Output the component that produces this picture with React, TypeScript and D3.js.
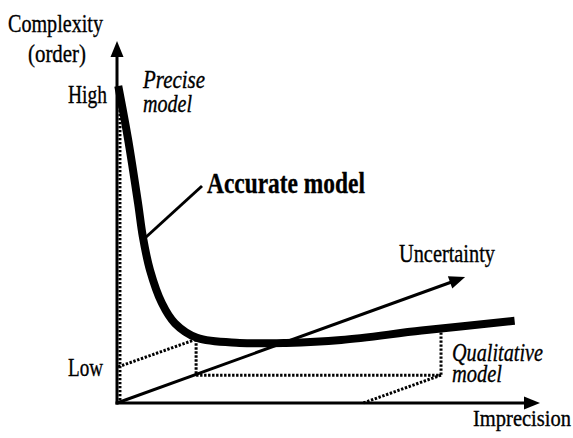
import React from 'react'
import * as d3 from 'd3'

// Accurate model curve (imprecision 0-100, complexity 0-100)
const curveX = [0.3, 2.6, 5.0, 6.1, 7.8, 10.6, 13.7, 18.9, 29, 40, 53, 72, 94]
const curveY = [87.6, 73, 55, 46, 36.7, 27.6, 22, 18, 16.6, 16.6, 17.4, 20, 22.7]

// Guide levels
const highLevel = 87.6
const lowLevel = 10
const boxX = [18.7, 76.6]
const boxY = 7.7
const boxTopY = [17.6, 20.6]
const footX = 58.2
const uncertaintyTip = [82.3, 34.8]

const W = 573
const H = 438

const x = d3.scaleLinear().domain([0, 100]).range([117, 540])
const y = d3.scaleLinear().domain([0, 100]).range([403, 41])

const font = '"Liberation Serif", "Times New Roman", serif'

// arrowhead polygon pointing from (x0,y0) to (x1,y1)
function head(x0: number, y0: number, x1: number, y1: number, len = 16, half = 6.5) {
  const a = Math.atan2(y1 - y0, x1 - x0)
  const bx = x1 - len * Math.cos(a)
  const by = y1 - len * Math.sin(a)
  const px = -Math.sin(a) * half
  const py = Math.cos(a) * half
  return `${x1},${y1} ${bx + px},${by + py} ${bx - px},${by - py}`
}

const Label = ({ x, y, w, size, children, weight = 'normal', style = 'normal' }: any) => (
  <text x={x} y={y} fontSize={size} fontWeight={weight} fontStyle={style}
    textLength={w} lengthAdjust="spacingAndGlyphs" fontFamily={font} fill="#000"
    stroke="#000" strokeWidth={0.35}>
    {children}
  </text>
)

const App = () => {
  const line = d3.line<number>()
    .x((_, i) => x(curveX[i]))
    .y((d) => y(d))
    .curve(d3.curveCatmullRom.alpha(0.5))

  const dot = { stroke: '#000', strokeWidth: 3, strokeDasharray: '2.4 1.6', fill: 'none' }
  const x0 = x(0), y0 = y(0)

  return (
    <svg width={W} height={H} style={{ position: 'absolute', left: 0, top: 0, background: '#fff' }}>
      {/* dotted guides */}
      <line x1={x(0.7)} x2={x(0.7)} y1={y(highLevel)} y2={y0} {...dot} />
      <line x1={x(0.3)} y1={y(lowLevel)} x2={x(boxX[0])} y2={y(boxTopY[0])} {...dot} />
      <line x1={x(boxX[0])} y1={y(boxTopY[0])} x2={x(boxX[0])} y2={y(boxY)} {...dot} />
      <line x1={x(boxX[0])} y1={y(boxY)} x2={x(boxX[1])} y2={y(boxY)} {...dot} />
      <line x1={x(boxX[1])} y1={y(boxTopY[1])} x2={x(boxX[1])} y2={y(boxY)} {...dot} />
      <line x1={x(boxX[1])} y1={y(boxY)} x2={x(footX)} y2={y0} {...dot} />

      {/* axes */}
      <line x1={x0} y1={y0 + 1.5} x2={x0} y2={y(100) + 10} stroke="#000" strokeWidth={3} />
      <polygon points={head(x0, y0, x0, y(100))} fill="#000" />
      <line x1={x0 - 1.5} y1={y0} x2={x(100) - 10} y2={y0} stroke="#000" strokeWidth={3} />
      <polygon points={head(x0, y0, x(100), y0)} fill="#000" />
      <line x1={x0} y1={y0} x2={x(uncertaintyTip[0]) - 8} y2={y(uncertaintyTip[1]) + 3} stroke="#000" strokeWidth={3} />
      <polygon points={head(x0, y0, x(uncertaintyTip[0]), y(uncertaintyTip[1]))} fill="#000" />

      {/* accurate model curve */}
      <path d={line(curveY) || ''} fill="none" stroke="#000" strokeWidth={8} strokeLinecap="butt" />
      <line x1={145} y1={238} x2={202} y2={186} stroke="#000" strokeWidth={3} />

      {/* labels */}
      <Label x={8} y={32} w={95} size={26}>Complexity</Label>
      <Label x={28} y={62} w={58} size={26}>(order)</Label>
      <Label x={68} y={103} w={39} size={26}>High</Label>
      <Label x={68} y={376} w={35} size={26}>Low</Label>
      <Label x={143} y={88} w={62} size={25} style="italic">Precise</Label>
      <Label x={143} y={112} w={49} size={25} style="italic">model</Label>
      <Label x={207} y={193} w={158} size={30} weight="bold">Accurate model</Label>
      <Label x={399} y={262} w={96} size={26}>Uncertainty</Label>
      <Label x={452} y={361} w={91} size={26} style="italic">Qualitative</Label>
      <Label x={452} y={382} w={50} size={26} style="italic">model</Label>
      <Label x={473} y={426} w={98} size={24}>Imprecision</Label>
    </svg>
  )
}

export default App
